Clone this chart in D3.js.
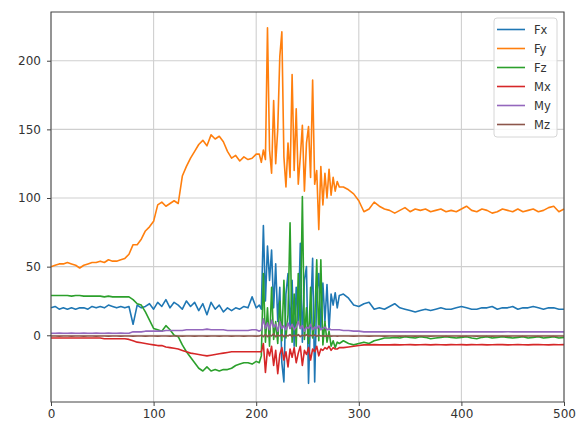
<!DOCTYPE html>
<html>
<head>
<meta charset="utf-8">
<script src="https://cdn.jsdelivr.net/npm/d3@7.9.0/dist/d3.min.js"></script>
<style>
  body { margin: 0; background: #fff; }
  svg { display: block; font-family: "DejaVu Sans", sans-serif; }
</style>
</head>
<body>
<svg id="chart" width="587" height="421"></svg>
<script>
// sample positions: coarse before the impact, dense through it, coarse after
const xs = [].concat(d3.range(0, 201, 4), d3.range(203, 282, 2), d3.range(285, 501, 5));

const seriesNames = ["Fx", "Fy", "Fz", "Mx", "My", "Mz"];
const seriesColors = ["#1f77b4", "#ff7f0e", "#2ca02c", "#d62728", "#9467bd", "#8c564b"];

const fx = [
  20,21,19,20,19,20,19,20,20,19,21,20,21,20,22,21,20,21,20,21,8,22,20,21,23,19,24,21,26,20,24,22,19,25,21,24,18,23,15,24,19,22,17,20,18,20,19,21,20,28,20,
  22,19,80,25,65,40,62,20,52,10,35,-20,-34,30,45,5,40,-8,35,10,67,-5,40,50,-35,15,56,-34,30,45,5,38,10,37,4,30,22,31,20,29,
  30,27,22,21,23,24,19,20,19,21,23,20,19,18,17,18,19,18,19,20,19,19,20,21,20,19,19,20,20,21,19,20,20,21,19,20,20,21,20,19,20,20,19,19
];
const fy = [
  50,51,52,52,53,52,51,49,51,52,53,53,54,53,55,54,54,55,56,59,66,66,70,76,79,83,95,97,94,96,98,96,116,123,129,134,139,142,138,146,143,145,141,134,129,131,127,130,128,129,132,
  132,126,135,128,224,135,118,171,125,150,203,221,130,108,140,115,190,120,165,110,130,153,105,140,152,115,186,110,120,77,123,95,118,100,121,102,115,105,112,108,
  108,106,103,98,90,92,97,94,92,91,89,91,93,90,92,91,92,90,91,92,90,91,90,92,94,91,90,92,91,89,90,92,91,90,92,90,91,92,90,91,93,94,90,92
];
const fz = [
  29,29,29,29,29,28.5,29,29,28.5,28.5,28.5,28.5,28.5,28,28.5,28,28,28,28,28,26,23,22,17,11,5,4,3,7,4,0,-1,-7,-12,-16,-20,-24,-26,-23,-26,-25,-26,-25,-25,-24,-22,-21,-20,-20,-21,-19,
  -20,-15,45,-5,20,-8,35,-3,10,-6,25,-4,40,-2,15,82,-5,30,-8,45,5,101,-3,20,-6,35,-2,10,55,-4,55,-7,10,-5,3,-8,-4,-9,-5,-6,
  -4,-6,-7,-6,-5,-6,-4,-3,-2,-2,-1.5,-2,-1,-1.5,-2,-1,-1.5,-2.5,-2,-1.5,-1,-1.5,-2,-1.5,-1,-2,-2.5,-1.5,-1,-2,-1.5,-1,-1.5,-2,-1.5,-1,-2,-1.5,-1,-2,-1.5,-1,-2,-1.5
];
const mx = [
  -2,-2,-2,-2,-2,-2,-2,-2,-2,-2,-2,-2,-2,-2.5,-2.5,-2.5,-2.5,-2.5,-2.5,-3,-4,-5,-5.5,-6,-6.5,-7,-7.5,-7.5,-8.5,-9,-9.5,-10,-11,-12,-13,-13.5,-14,-14.5,-15,-14.5,-14,-13.5,-13,-12.5,-12,-12,-12,-12,-12,-12,-12,
  -12,-12,-6,-27,-10,-15,-8,-22,-11,-28,-14,-9,-18,-12,-23,-10,-16,-9,-20,-13,-8,-22,-11,-14,-9,-18,-10,-12,-8,-15,-10,-11,-9,-10,-8,-11,-9,-10,-10,-9,
  -9,-8.5,-8,-7.5,-7,-7,-6.8,-7,-6.9,-7,-6.8,-7,-6.9,-6.8,-7,-6.9,-6.8,-7,-6.8,-6.9,-7,-6.8,-6.9,-6.8,-7,-6.8,-6.9,-6.8,-7,-6.9,-6.8,-6.8,-7,-6.9,-6.8,-6.9,-7,-6.8,-6.8,-6.9,-7,-6.8,-6.9,-6.8
];
const my = [
  1.5,1.5,1.6,1.5,1.5,1.6,1.5,1.5,1.6,1.5,1.5,1.6,1.5,1.5,1.6,1.5,1.5,1.6,1.5,1.5,2.5,2.5,2.5,3,3,3,3,3,3.5,3.5,3.5,3.5,3.5,4,4,4,4,4,4.5,4,4,4,4,3.5,3.5,3.5,3.5,3.5,3.5,4,4,
  3,4,12,5,9,4,11,6,8,3,10,5,7,4,9,5,8,4,6,10,5,7,3,6,5,8,4,6,5,7,4,5,6,4,5,4,4,4,4,4,
  3.5,3.5,3,3,2.5,2.6,2.5,2.5,2.6,2.5,2.5,2.6,2.5,2.5,2.6,2.5,2.5,2.6,2.5,2.5,2.6,2.5,2.5,2.6,2.5,2.5,2.6,2.5,2.5,2.6,2.5,2.5,2.6,2.5,2.5,2.6,2.5,2.5,2.6,2.5,2.5,2.6,2.5,2.5
];
const mz = [
  -0.5,-0.5,-0.6,-0.5,-0.5,-0.6,-0.5,-0.5,-0.6,-0.5,-0.5,-0.6,-0.5,-0.5,-0.6,-0.5,-0.5,-0.6,-0.5,-0.5,-0.6,-0.5,-0.5,-0.6,-0.5,-0.5,-0.6,-0.5,-0.5,-0.6,-0.5,-0.5,-0.6,-0.5,-0.5,-0.6,-0.5,-0.5,-0.6,-0.5,-0.5,-0.6,-0.5,-0.5,-0.6,-0.5,-0.5,-0.6,-0.5,-0.5,-0.6,
  -0.5,0,-1,0.5,-1,0,-0.5,1,-1,0,-0.5,0.5,-1,0,-0.5,0.5,-1,0,-0.5,0.5,-1,0,-0.5,0.5,-0.8,0,-0.5,0.3,-0.8,0,-0.5,-0.3,-0.6,-0.4,-0.5,-0.6,-0.5,-0.5,-0.6,-0.5,
  -0.5,-0.5,-0.6,-0.5,-0.5,-0.6,-0.5,-0.5,-0.6,-0.5,-0.5,-0.6,-0.5,-0.5,-0.6,-0.5,-0.5,-0.6,-0.5,-0.5,-0.6,-0.5,-0.5,-0.6,-0.5,-0.5,-0.6,-0.5,-0.5,-0.6,-0.5,-0.5,-0.6,-0.5,-0.5,-0.6,-0.5,-0.5,-0.6,-0.5,-0.5,-0.6,-0.5,-0.5
];

const xTicks = [0, 100, 200, 300, 400, 500];
const yTicks = [0, 50, 100, 150, 200];

const seriesValues = [fx, fy, fz, mx, my, mz];

const mLeft = 51, mRight = 564, mTop = 12, mBottom = 402;
const svg = d3.select("#chart");

let x = d3.scaleLinear().domain([0, 500]).range([mLeft, mRight]);
let y = d3.scaleLinear().domain([-48.6, 235.5]).range([mBottom, mTop]);

// grid
svg.append("g")
  .selectAll("line")
  .data(xTicks)
  .join("line")
  .attr("x1", (d) => x(d)).attr("x2", (d) => x(d))
  .attr("y1", mTop).attr("y2", mBottom)
  .attr("stroke", "#cfcfcf").attr("stroke-width", 1.1);
svg.append("g")
  .selectAll("line")
  .data(yTicks)
  .join("line")
  .attr("x1", mLeft).attr("x2", mRight)
  .attr("y1", (d) => y(d)).attr("y2", (d) => y(d))
  .attr("stroke", "#cfcfcf").attr("stroke-width", 1.1);

// series lines
let line = d3.line()
  .x((d) => x(d[0]))
  .y((d) => y(d[1]));

const plot = svg.append("g");
seriesNames.forEach((name, i) => {
  let pts = xs.map((xv, j) => [xv, seriesValues[i][j]]);
  plot.append("path")
    .datum(pts)
    .attr("d", line)
    .attr("fill", "none")
    .attr("stroke", seriesColors[i])
    .attr("stroke-width", 1.6)
    .attr("stroke-linejoin", "round");
});

// axes
let xAxis = d3.axisBottom(x).tickValues(xTicks).tickSize(4).tickPadding(3.5);
let yAxis = d3.axisLeft(y).tickValues(yTicks).tickSize(4).tickPadding(6);

let gx = svg.append("g").attr("transform", `translate(0,${mBottom})`).call(xAxis);
let gy = svg.append("g").attr("transform", `translate(${mLeft},0)`).call(yAxis);
[gx, gy].forEach((g) => {
  g.select(".domain").remove();
  g.selectAll("line").attr("stroke", "#444");
  g.selectAll("text").attr("fill", "#333").style("font-size", "12px").style("font-family", "DejaVu Sans");
});

// frame
svg.append("rect")
  .attr("x", mLeft).attr("y", mTop)
  .attr("width", mRight - mLeft).attr("height", mBottom - mTop)
  .attr("fill", "none").attr("stroke", "#444").attr("stroke-width", 1);

// legend
const legend = svg.append("g").attr("transform", "translate(494,18)");
legend.append("rect")
  .attr("width", 63).attr("height", 119).attr("rx", 3)
  .attr("fill", "#fff").attr("fill-opacity", 0.8)
  .attr("stroke", "#d6d6d6");
seriesNames.forEach((name, i) => {
  let row = legend.append("g").attr("transform", `translate(0,${11.5 + i * 19})`);
  row.append("line")
    .attr("x1", 3).attr("x2", 31)
    .attr("stroke", seriesColors[i]).attr("stroke-width", 1.6);
  row.append("text")
    .attr("x", 40).attr("y", 4)
    .attr("fill", "#333")
    .style("font-size", "11.5px")
    .text(name);
});
</script>
</body>
</html>
